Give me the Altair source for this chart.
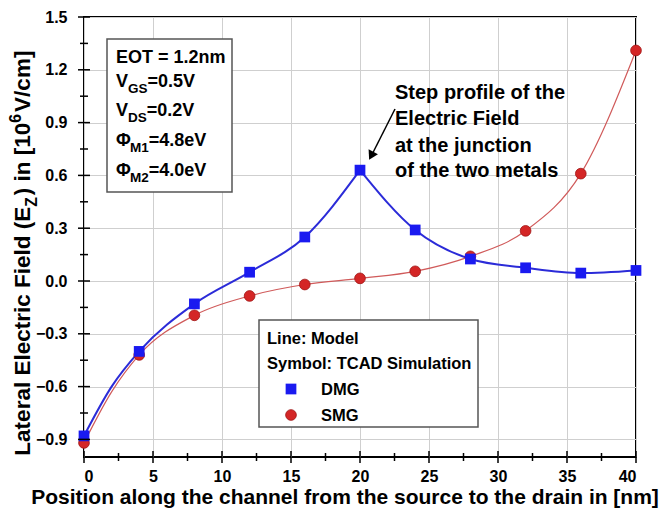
import altair as alt
import pandas as pd

# ---------------- data ----------------
x_nm = [0, 4, 8, 12, 16, 20, 24, 28, 32, 36, 40]
dmg_tcad = [-0.88, -0.40, -0.13, 0.05, 0.25, 0.63, 0.29, 0.125, 0.075, 0.045, 0.06]
smg_tcad = [-0.92, -0.42, -0.195, -0.085, -0.02, 0.015, 0.055, 0.14, 0.285, 0.61, 1.31]

model_x = [0, 2, 4, 8, 12, 16, 20, 24, 28, 32, 36, 40]
dmg_model = [-0.88, -0.60, -0.40, -0.13, 0.05, 0.25, 0.63, 0.29, 0.125, 0.075, 0.045, 0.06]
smg_model = [-0.92, -0.63, -0.42, -0.195, -0.085, -0.02, 0.015, 0.055, 0.14, 0.285, 0.61, 1.31]

x_major = [0, 5, 10, 15, 20, 25, 30, 35, 40]
x_minor = [2.5, 7.5, 12.5, 17.5, 22.5, 27.5, 32.5, 37.5]
y_major = [-0.9, -0.6, -0.3, 0.0, 0.3, 0.6, 0.9, 1.2, 1.5]
y_minor = [-0.75, -0.45, -0.15, 0.15, 0.45, 0.75, 1.05, 1.35]

# ---------------- styles ----------------
FONT = "Liberation Sans"
W, H = 552, 440
BLUE_M, BLUE_L = "#1a1af0", "#2b2bd8"
RED_M, RED_S, RED_L = "#d42626", "#a01414", "#d05a5a"

xs = alt.Scale(domain=[0, 40], nice=False, zero=False)
ys = alt.Scale(domain=[-1.0, 1.5], nice=False, zero=False)

x_axis = alt.Axis(values=x_major, format="d", title=None, grid=True, gridColor="#cfcfcf",
                  gridWidth=1, domain=False, ticks=False, labelFont=FONT, labelFontSize=16,
                  labelFontWeight="bold", labelColor="black", labelPadding=11)
y_axis = alt.Axis(values=y_major, format=".1f", title=None, grid=True, gridColor="#cfcfcf",
                  gridWidth=1, domain=False, ticks=False, labelFont=FONT, labelFontSize=16,
                  labelFontWeight="bold", labelColor="black", labelPadding=17)

def X(field):
    return alt.X(field, scale=xs, axis=x_axis)

def Y(field):
    return alt.Y(field, scale=ys, axis=y_axis)

# ---------------- data frames ----------------
pts = pd.DataFrame({"x": x_nm, "dmg": dmg_tcad, "smg": smg_tcad})
dm_rows = []
for xv, yv in zip(model_x, dmg_model):
    if xv <= 20:
        dm_rows.append({"x": xv, "y": yv, "seg": "a"})
    if xv >= 20:
        dm_rows.append({"x": xv, "y": yv, "seg": "b"})
dmg_line_df = pd.DataFrame(dm_rows)
smg_line_df = pd.DataFrame({"x": model_x, "y": smg_model})

layers = []

smg_line = alt.Chart(smg_line_df).mark_line(color=RED_L, strokeWidth=1.2, interpolate="monotone").encode(
    x=X("x:Q"), y=Y("y:Q"))
dmg_line = alt.Chart(dmg_line_df).mark_line(color=BLUE_L, strokeWidth=2, interpolate="monotone").encode(
    x=X("x:Q"), y=Y("y:Q"), detail="seg:N")
dmg_pts = alt.Chart(pts).mark_point(shape="square", filled=True, size=115, color=BLUE_M, opacity=1).encode(
    x=X("x:Q"), y=Y("dmg:Q"))
smg_pts = alt.Chart(pts).mark_point(shape="circle", filled=True, size=115, color=RED_M, opacity=1,
                                    stroke=RED_S, strokeWidth=0.8).encode(
    x=X("x:Q"), y=Y("smg:Q"))
layers += [smg_line, dmg_line, smg_pts, dmg_pts]

# tick marks crossing the frame
def xticks(vals, half):
    return alt.Chart(pd.DataFrame({"v": vals})).mark_rule(color="black", strokeWidth=1.5).encode(
        x=X("v:Q"), y=alt.value(H - half), y2=alt.value(H + half))

def yticks(vals, half):
    return alt.Chart(pd.DataFrame({"v": vals})).mark_rule(color="black", strokeWidth=1.5).encode(
        y=Y("v:Q"), x=alt.value(-half), x2=alt.value(half))

layers += [xticks(x_major, 6), xticks(x_minor, 4), yticks(y_major, 6), yticks(y_minor, 4)]

one = pd.DataFrame({"a": [0]})

# text width helper (Arial/Helvetica bold metrics)
WID = {" ": 278, "(": 333, ")": 333, "[": 333, "]": 333, "/": 278, ".": 278, "=": 584, ":": 333,
       "A": 722, "C": 722, "D": 722, "E": 667, "F": 611, "G": 778, "L": 611, "M": 833, "O": 778,
       "S": 667, "T": 611, "V": 667, "Z": 611, "\u03a6": 778, "a": 556, "b": 611, "c": 556,
       "d": 611, "e": 556, "i": 278, "l": 278, "m": 889, "n": 611, "o": 611, "r": 389, "t": 333,
       "u": 611, "y": 556, "v": 556}

def tw(s, fs):
    return sum(WID.get(c, 556) for c in s) * fs / 1000.0

def txt(s, px, py, fs, angle=0, align="left", baseline="alphabetic"):
    return alt.Chart(one).mark_text(text=s, font=FONT, fontWeight="bold", fontSize=fs, color="black",
                                    align=align, baseline=baseline, angle=angle).encode(
        x=alt.value(px), y=alt.value(py))

def rich(runs, x0, y0, base, angle=0, ratio=0.75, gap=0.0):
    out = []
    pos = 0.0
    for s, kind in runs:
        fs = base if kind == "n" else base * ratio
        shift = 0.0 if kind == "n" else (base * 0.32 if kind == "sub" else -base * 0.42)
        if angle == 0:
            out.append(txt(s, x0 + pos, y0 + shift, fs))
        else:
            out.append(txt(s, x0 + shift, y0 - pos, fs, angle=270))
        pos += tw(s, fs) + (gap if kind != "n" else 0.0)
    return out, pos

def rect(x1, y1, x2, y2):
    return alt.Chart(one).mark_rect(fill="white", stroke="#555555", strokeWidth=1.5).encode(
        x=alt.value(x1), x2=alt.value(x2), y=alt.value(y1), y2=alt.value(y2))

# parameter box
layers.append(rect(23, 22, 148, 175))
pb = 18
for runs, yb in [
    ([("EOT = 1.2nm", "n")], 46),
    ([("V", "n"), ("GS", "sub"), ("=0.5V", "n")], 70),
    ([("V", "n"), ("DS", "sub"), ("=0.2V", "n")], 99),
    ([("\u03a6", "n"), ("M1", "sub"), ("=4.8eV", "n")], 129),
    ([("\u03a6", "n"), ("M2", "sub"), ("=4.0eV", "n")], 159),
]:
    ly, _ = rich(runs, 32, yb, pb)
    layers += ly

# legend box
layers.append(rect(175, 303, 394, 410))
layers.append(txt("Line: Model", 183, 327, 16.5))
layers.append(txt("Symbol: TCAD Simulation", 183, 352, 16.5))
layers.append(alt.Chart(one).mark_point(shape="square", filled=True, size=115, color=BLUE_M, opacity=1).encode(
    x=alt.value(207), y=alt.value(372)))
layers.append(alt.Chart(one).mark_point(shape="circle", filled=True, size=115, color=RED_M, opacity=1,
                                        stroke=RED_S, strokeWidth=0.8).encode(
    x=alt.value(207), y=alt.value(398)))
layers.append(txt("DMG", 237, 378, 16.5))
layers.append(txt("SMG", 237, 404, 16.5))

# annotation
for s, yb in [("Step profile of the", 82), ("Electric Field", 108),
              ("at the junction", 135), ("of the two metals", 160)]:
    layers.append(txt(s, 311, yb, 20))
layers.append(alt.Chart(one).mark_rule(color="black", strokeWidth=1.5).encode(
    x=alt.value(311), y=alt.value(92), x2=alt.value(287.5), y2=alt.value(138.5)))
layers.append(alt.Chart(one).mark_point(shape="triangle-up", filled=True, size=110, color="black",
                                        opacity=1, angle=207).encode(
    x=alt.value(287.2), y=alt.value(138.8)))

# axis titles
layers.append(txt("Position along the channel from the source to the drain in [nm]", 261, 481, 21,
                  align="center", baseline="middle"))
yt_runs = [("Lateral Electric Field (E", "n"), ("Z", "sub"), (") in [10", "n"), ("6", "sup"),
           (" V/cm]", "n")]
yt_size = 22.5
total = sum(tw(s, yt_size if k == "n" else yt_size * 0.7) for s, k in yt_runs) + 4
ly, _ = rich(yt_runs, -54, 233 + total / 2, yt_size, angle=270, ratio=0.7, gap=2)
layers += ly

chart = alt.layer(*layers).properties(
    width=W, height=H,
    autosize=alt.AutoSizeParams(type="none"),
    padding={"left": 76, "top": 9, "right": 24, "bottom": 53},
).configure_view(stroke="black", strokeWidth=2)

chart.save("out.html", embed_options={"renderer": "svg", "actions": False})
